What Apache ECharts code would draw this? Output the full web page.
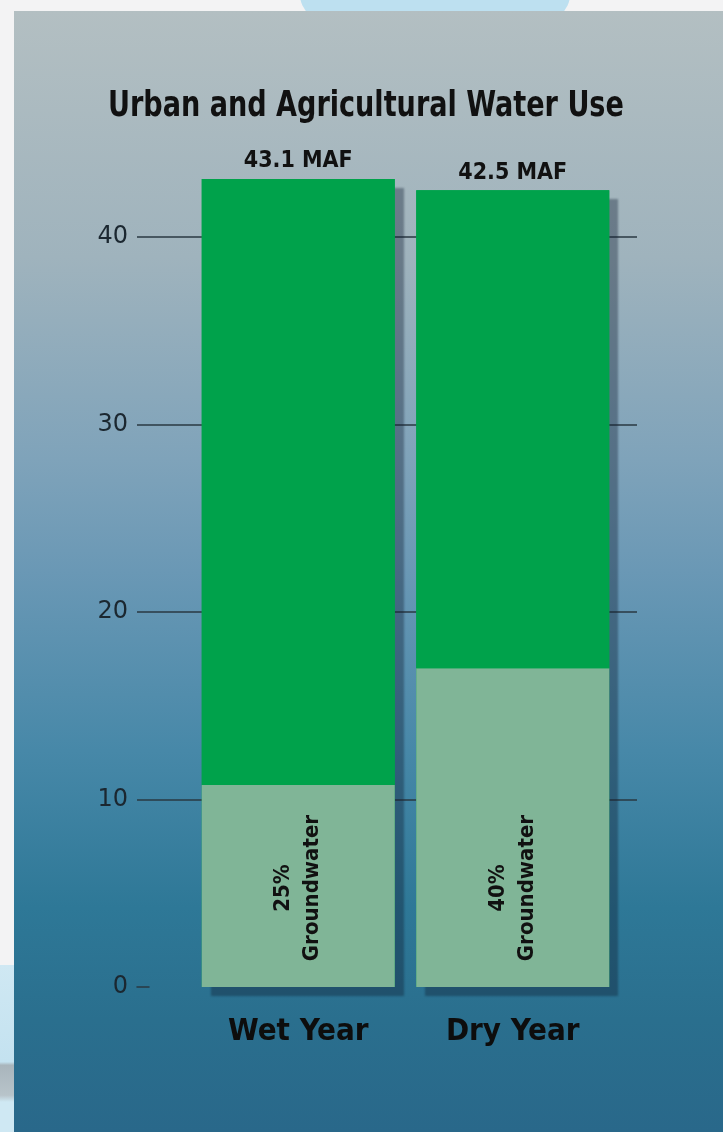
<!DOCTYPE html>
<html>
<head>
<meta charset="utf-8">
<script src="https://cdn.jsdelivr.net/npm/echarts@6/dist/echarts.min.js"></script>
<style>
  html, body { margin: 0; padding: 0; }
  body { width: 723px; height: 1132px; position: relative; overflow: hidden; background: #f3f3f4; }
  .deco-top { position: absolute; left: 300px; top: -60px; width: 270px; height: 110px; border-radius: 50%; background: #bde0f0; }
  .deco-left { position: absolute; left: 0; top: 965px; width: 14px; height: 167px; background: linear-gradient(to bottom, #cfe8f3 0%, #c4e2f0 58%, #a9b5bc 60%, #b8c4ca 78%, #cfe8f3 82%, #cfe8f3 100%); }
  .panel { position: absolute; left: 14px; top: 11px; width: 709px; height: 1121px;
    background: linear-gradient(to bottom, #b3bfc2 0%, #9fb3bd 22%, #7fa3ba 40%, #6a98b5 50%, #4788a8 66%, #2e7897 80%, #2a6f8e 90%, #29688a 100%); }
  #chart { position: absolute; left: 0; top: 0; width: 723px; height: 1132px; }
</style>
</head>
<body>
<div class="deco-top"></div>
<div class="deco-left"></div>
<div class="panel"></div>
<div id="chart"></div>
<script>
// values (million acre-feet)
const years = ['Wet Year', 'Dry Year'];
const totals = [43.1, 42.5];
const groundPct = [25, 40];
const yTicks = [0, 10, 20, 30, 40, 50];

const groundwater = totals.map((t, i) => +(t * groundPct[i] / 100).toFixed(2));
const surface = totals.map((t, i) => +(t - groundwater[i]).toFixed(2));

const narrow = '"DejaVu Sans Condensed", "Liberation Sans", sans-serif';
const lineCol = '#2a3942';

var myChart = echarts.init(document.getElementById('chart'));

const option = {
    backgroundColor: 'transparent',
    animation: false,
    graphic: [
        {
            type: 'text',
            x: 108,
            y: 89,
            scaleX: 0.86,
            style: {
                text: 'Urban and Agricultural Water Use',
                font: 'bold 35px ' + narrow,
                fill: '#111'
            }
        }
    ],
    grid: [
        // axis labels + gridlines
        { left: 137, right: 86, top: 49.5, bottom: 145 },
        // short dash at zero
        { left: 137, width: 12, top: 49.5, bottom: 145 },
        // bars
        { left: 191, right: 103, top: 49.5, bottom: 145 }
    ],
    xAxis: [
        { gridIndex: 0, type: 'value', show: false, min: 0, max: 1 },
        {
            gridIndex: 1, type: 'value', min: 0, max: 1,
            axisLine: { show: true, lineStyle: { color: lineCol, width: 1.5 } },
            axisTick: { show: false }, axisLabel: { show: false }, splitLine: { show: false }
        },
        {
            gridIndex: 2, type: 'category', data: years,
            axisLine: { show: false }, axisTick: { show: false },
            axisLabel: { interval: 0, margin: 29, fontFamily: narrow, fontWeight: 'bold', fontSize: 31, color: '#0d0d0d' }
        }
    ],
    yAxis: [
        {
            gridIndex: 0, type: 'value', min: yTicks[0], max: yTicks[yTicks.length - 1], interval: 10,
            axisLine: { show: false }, axisTick: { show: false },
            axisLabel: {
                margin: 9, fontFamily: '"DejaVu Sans", sans-serif', fontSize: 24, color: '#1b2730',
                formatter: v => (v === yTicks[yTicks.length - 1] ? '' : v)
            },
            splitLine: {
                show: true,
                lineStyle: {
                    width: 1.5,
                    color: yTicks.map(v => (v === 0 || v === yTicks[yTicks.length - 1] ? 'rgba(0,0,0,0)' : lineCol))
                }
            }
        },
        { gridIndex: 1, type: 'value', show: false, min: 0, max: 50 },
        { gridIndex: 2, type: 'value', show: false, min: 0, max: 50 }
    ],
    series: [
        {
            name: 'Total',
            type: 'bar',
            xAxisIndex: 2, yAxisIndex: 2,
            data: totals,
            barWidth: 193,
            barGap: '-100%',
            itemStyle: {
                color: '#00a24b',
                shadowColor: 'rgba(15, 30, 50, 0.38)',
                shadowBlur: 2,
                shadowOffsetX: 9,
                shadowOffsetY: 9
            },
            label: {
                show: true,
                position: 'top',
                distance: 6,
                formatter: p => p.value + ' MAF',
                fontFamily: narrow, fontWeight: 'bold', fontSize: 23, color: '#111'
            }
        },
        {
            name: 'Groundwater',
            type: 'bar',
            stack: 'water',
            xAxisIndex: 2, yAxisIndex: 2,
            data: groundwater,
            barWidth: 193,
            barGap: '-100%',
            itemStyle: { color: '#80b597' },
            label: {
                show: true,
                position: 'insideBottom',
                distance: 99,
                rotate: 90,
                align: 'center',
                verticalAlign: 'middle',
                formatter: p => groundPct[p.dataIndex] + '%\nGroundwater',
                fontFamily: narrow, fontWeight: 'bold', fontSize: 22, lineHeight: 29, color: '#111'
            }
        },
        {
            name: 'Surface water',
            type: 'bar',
            stack: 'water',
            xAxisIndex: 2, yAxisIndex: 2,
            data: surface,
            barWidth: 193,
            barGap: '-100%',
            itemStyle: { color: '#00a24b' }
        }
    ]
};
myChart.setOption(option);
</script>
</body>
</html>
